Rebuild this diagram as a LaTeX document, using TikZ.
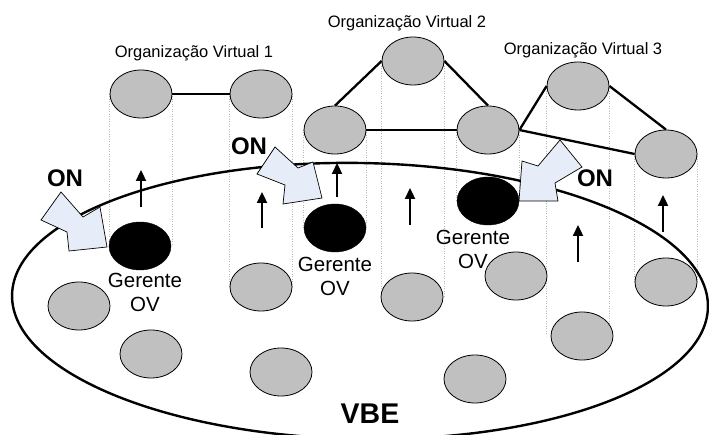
\documentclass[tikz,border=0pt]{standalone}
\usepackage{fontspec}
\setmainfont{Liberation Sans}
\usetikzlibrary{shapes.geometric,arrows.meta,backgrounds}
\definecolor{nodegray}{RGB}{192,192,192}
\definecolor{starblue}{RGB}{230,237,248}
\definecolor{dotgray}{RGB}{185,185,185}
\begin{document}
\begin{tikzpicture}[x=1pt,y=-1pt,
  member/.style={ellipse,draw=black,line width=0.8pt,fill=nodegray,minimum width=62pt,minimum height=48pt,inner sep=0pt},
  manager/.style={ellipse,draw=black,fill=black,minimum width=62pt,minimum height=48pt,inner sep=0pt},
  link/.style={line width=2.3pt},
  guide/.style={draw=dotgray,line width=0.5pt,dotted},
  rise/.style={line width=2.3pt,-{Triangle[length=11pt,width=10pt]}},
  burst/.style={draw=black,line width=0.7pt,fill=starblue,line join=miter},
  ovlabel/.style={font=\fontsize{16.5}{19}\selectfont,inner sep=0pt,anchor=base},
  onlabel/.style={font=\fontsize{24}{28}\selectfont\bfseries,inner sep=0pt,anchor=base},
  mgrlabel/.style={font=\fontsize{20.5}{24}\selectfont,align=center,inner sep=0pt,anchor=north}]
\useasboundingbox (0,0) rectangle (709,435);
\clip (0,0) rectangle (709,435);

% VBE
\node[ellipse,draw=black,line width=2.4pt,minimum width=696pt,minimum height=276pt,inner sep=0pt,rotate=-1] (vbe) at (360,301) {};

% top level nodes
\node[member] (o1a) at (141,94) {};
\node[member] (o1b) at (261,94) {};
\node[member] (o2t) at (413,61) {};
\node[member] (o2l) at (335,130) {};
\node[member] (o2r) at (488,130) {};
\node[member] (o3t) at (578,86) {};
\node[member] (o3r) at (666,154) {};

% managers
\node[manager] (g1) at (140,246) {};
\node[manager] (g2) at (335,228) {};
\node[manager] (g3) at (488,201) {};

% members in VBE
\node[member] (m1) at (261,287) {};
\node[member] (m2) at (79,306) {};
\node[member] (m3) at (151,354) {};
\node[member] (m4) at (412,297) {};
\node[member] (m5) at (281,372) {};
\node[member] (m6) at (475,379) {};
\node[member] (m7) at (516,276) {};
\node[member] (m8) at (582,336) {};
\node[member] (m9) at (666,282) {};

% projection guides
\begin{pgfonlayer}{background}
\foreach \t/\b in {o1a/g1,o1b/m1,o2l/g2,o2t/m4,o2r/g3,o3t/m8,o3r/m9}{
  \draw[guide] (\t.west) -- (\t.west |- \b.center);
  \draw[guide] (\t.east) -- (\t.east |- \b.center);
}
\end{pgfonlayer}

% links
\draw[link] (o1a) -- (o1b);
\draw[link] (o2l.north) -- (o2t.west);
\draw[link] (o2t.east) -- (o2r.north);
\draw[link] (o2l) -- (o2r);
\draw[link] (o2r.east) -- (o3t.west);
\draw[link] (o3t.east) -- (o3r.north);
\draw[link] (o2r.east) -- (o3r.west);

% up arrows
\coordinate (r1s) at (141,207); \coordinate (r1e) at (141,170);
\coordinate (r2s) at (262,228); \coordinate (r2e) at (262,192);
\coordinate (r3s) at (337,197); \coordinate (r3e) at (337,163);
\coordinate (r4s) at (410,225); \coordinate (r4e) at (410,188);
\coordinate (r5s) at (578,262); \coordinate (r5e) at (578,225);
\coordinate (r6s) at (663,232); \coordinate (r6e) at (663,195);
\foreach \i in {1,...,6}{\draw[rise] (r\i s) -- (r\i e);}

% ON block arrows
\draw[burst] (61,192) -- (83,217) -- (100,207) -- (107,247) -- (69,251) -- (67,232) -- (41,220) -- cycle;
\draw[burst] (275,147) -- (298,168) -- (313,162) -- (322,198) -- (283,204) -- (285,185) -- (257,174) -- cycle;
\draw[burst] (560,140) -- (538,166) -- (522,161) -- (519,201) -- (558,201) -- (555,183) -- (582,167) -- cycle;

% texts
\node[ovlabel] (t1) at (194,58) {Organização Virtual 1};
\node[ovlabel] (t2) at (407,28) {Organização Virtual 2};
\node[ovlabel] (t3) at (583,55) {Organização Virtual 3};
\node[onlabel] (on1) at (65,187) {ON};
\node[onlabel] (on2) at (249,155) {ON};
\node[onlabel] (on3) at (595,187) {ON};
\node[mgrlabel] (l1) at (145,273) {Gerente\\OV};
\node[mgrlabel] (l2) at (335,257) {Gerente\\OV};
\node[mgrlabel] (l3) at (473,230) {Gerente\\OV};
\node[font=\fontsize{28.5}{32}\selectfont\bfseries,inner sep=0pt,anchor=base] (vbet) at (370,423) {VBE};
\end{tikzpicture}
\end{document}
